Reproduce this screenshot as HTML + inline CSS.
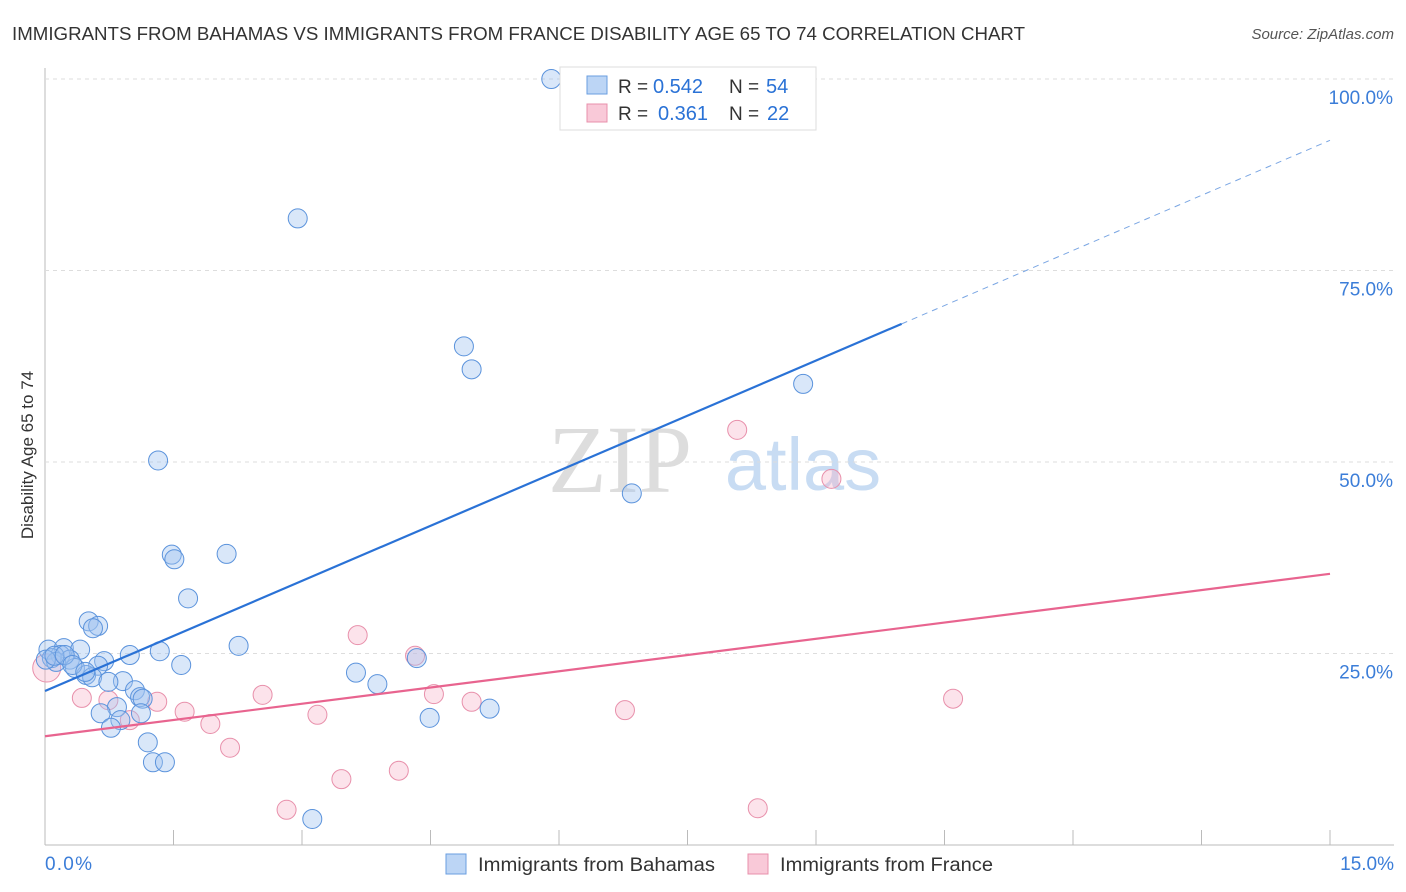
<!DOCTYPE html>
<html><head><meta charset="utf-8"><style>
body{margin:0;background:#fff;font-family:"Liberation Sans",sans-serif;}
svg{display:block}
</style></head><body>
<svg width="1406" height="892" id="c">
<text x="12" y="40" font-size="18.5" fill="#333" textLength="1013" lengthAdjust="spacingAndGlyphs">IMMIGRANTS FROM BAHAMAS VS IMMIGRANTS FROM FRANCE DISABILITY AGE 65 TO 74 CORRELATION CHART</text>
<text x="1394" y="39" font-size="15" fill="#555" font-style="italic" text-anchor="end">Source: ZipAtlas.com</text>
<text x="620" y="492" font-size="96" fill="#ddd" font-family="Liberation Serif" text-anchor="middle">ZIP</text>
<text x="803" y="490" font-size="74" fill="#c8dcf3" text-anchor="middle">atlas</text>
<text transform="translate(33,455) rotate(-90)" font-size="17" fill="#333" text-anchor="middle">Disability Age 65 to 74</text>
<g id="grid"></g><g id="pts"></g><g id="lines"></g>
<g>
<rect x="560" y="67" width="256" height="63" fill="#fff" stroke="#ddd"/>
<rect x="587" y="76" width="20" height="18" fill="#bcd5f5" stroke="#6a9ee0"/>
<rect x="587" y="104" width="20" height="18" fill="#f9c9d8" stroke="#e890ab"/>
<text x="618" y="93" font-size="19" fill="#333">R =</text>
<text x="653" y="93" font-size="20" fill="#2a72d6">0.542</text>
<text x="729" y="93" font-size="19" fill="#333">N =</text>
<text x="766" y="93" font-size="20" fill="#2a72d6">54</text>
<text x="618" y="120" font-size="19" fill="#333">R =</text>
<text x="658" y="120" font-size="20" fill="#2a72d6">0.361</text>
<text x="729" y="120" font-size="19" fill="#333">N =</text>
<text x="767" y="120" font-size="20" fill="#2a72d6">22</text>
</g>
<g>
<rect x="446" y="854" width="20" height="20" fill="#bcd5f5" stroke="#6a9ee0"/>
<text x="478" y="871" font-size="19" fill="#333" textLength="237" lengthAdjust="spacingAndGlyphs">Immigrants from Bahamas</text>
<rect x="748" y="854" width="20" height="20" fill="#f9c9d8" stroke="#e890ab"/>
<text x="780" y="871" font-size="19" fill="#333" textLength="213" lengthAdjust="spacingAndGlyphs">Immigrants from France</text>
</g>
<text x="45" y="870" font-size="19" fill="#3b7dd8" textLength="47">0.0%</text>
<text x="1394" y="870" font-size="19" fill="#3b7dd8" text-anchor="end">15.0%</text>
</svg>
<script>
const yTicks=[25,50,75,100];
const yTickLabels=["25.0%","50.0%","75.0%","100.0%"];
const blueX=[5.91,2.95,4.89,4.98,8.85,1.32,6.85,1.48,1.51,2.12,1.67,0.51,0.62,0.56,2.26,0.04,0.22,0.41,1.34,0.99,0.18,0.29,0.08,0.13,0.69,0.62,1.59,0.35,0.48,0.55,0.91,0.74,3.63,3.88,4.34,1.05,1.11,1.14,0.84,0.65,1.12,0.88,0.77,4.49,5.19,1.20,1.26,1.40,3.12,0.01,0.11,0.23,0.32,0.47];
const blueY=[100,81.8,65.1,62.1,60.2,50.2,45.9,37.9,37.3,38.0,32.2,29.2,28.6,28.3,26.0,25.5,25.7,25.5,25.3,24.8,24.8,24.2,24.4,23.9,24.0,23.4,23.5,23.1,22.2,21.9,21.4,21.3,22.5,21.0,24.4,20.2,19.3,19.1,18.0,17.2,17.2,16.3,15.3,16.6,17.8,13.4,10.8,10.8,3.4,24.2,24.7,24.8,23.5,22.6];
const pinkX=[0.02,0.43,0.74,1.31,1.63,1.93,2.16,2.54,3.18,3.46,2.82,3.65,4.32,4.54,4.98,4.13,6.77,8.08,9.18,8.32,10.60,0.99];
const pinkY=[23.1,19.2,18.9,18.7,17.4,15.8,12.7,19.6,17.0,8.6,4.6,27.4,24.7,19.7,18.7,9.7,17.6,54.2,47.8,4.8,19.1,16.3];
const blueTrend=[20.1,92.0]; const pinkTrend=[14.2,35.4]; const blueSolidEnd=10.0;
const NS="http://www.w3.org/2000/svg";
const X=v=>45+v/15*1285, Y=v=>845-v/100*766;
function mk(tag,attrs,parent){const e=document.createElementNS(NS,tag);for(const k in attrs)e.setAttribute(k,attrs[k]);document.getElementById(parent).appendChild(e);return e;}
let ax=mk('line',{x1:45,y1:68,x2:45,y2:845,stroke:'#bbb'},'grid');


let bx=mk('line',{x1:45,y1:845,x2:1394,y2:845,stroke:'#bbb'},'grid');


for(let i=1;i<=10;i++){let t=mk('line',{x1:X(i*1.5),y1:830,x2:X(i*1.5),y2:845,stroke:'#bbb'},'grid');

}
yTicks.forEach((v,i)=>{let g=mk('line',{x1:45,y1:Y(v),x2:1394,y2:Y(v),stroke:'#ddd','stroke-dasharray':'4,4'},'grid');


let t=mk('text',{x:1393,y:Y(v)+25,'font-size':19,fill:'#3b7dd8','text-anchor':'end'},'grid');t.textContent=yTickLabels[i];

});
pinkX.forEach((x,i)=>{let c=mk('circle',{cx:X(x),cy:Y(pinkY[i]),r:i==0?14:9.5,fill:'rgba(245,175,198,0.35)',stroke:'#e890ab','stroke-width':1},'pts');

});
blueX.forEach((x,i)=>{let c=mk('circle',{cx:X(x),cy:Y(blueY[i]),r:9.5,fill:'rgba(160,196,240,0.4)',stroke:'#5b93dc','stroke-width':1},'pts');

});
const bAt=x=>blueTrend[0]+(blueTrend[1]-blueTrend[0])*x/15;
let l1=mk('line',{x1:X(0),y1:Y(bAt(0)),x2:X(blueSolidEnd),y2:Y(bAt(blueSolidEnd)),stroke:'#2a72d6','stroke-width':2.2},'lines');


let l2=mk('line',{x1:X(blueSolidEnd),y1:Y(bAt(blueSolidEnd)),x2:X(15),y2:Y(bAt(15)),stroke:'#7aa6e3','stroke-width':1,'stroke-dasharray':'6,5'},'lines');


let l3=mk('line',{x1:X(0),y1:Y(pinkTrend[0]),x2:X(15),y2:Y(pinkTrend[1]),stroke:'#e8648f','stroke-width':2.2},'lines');


</script>
</body></html>
